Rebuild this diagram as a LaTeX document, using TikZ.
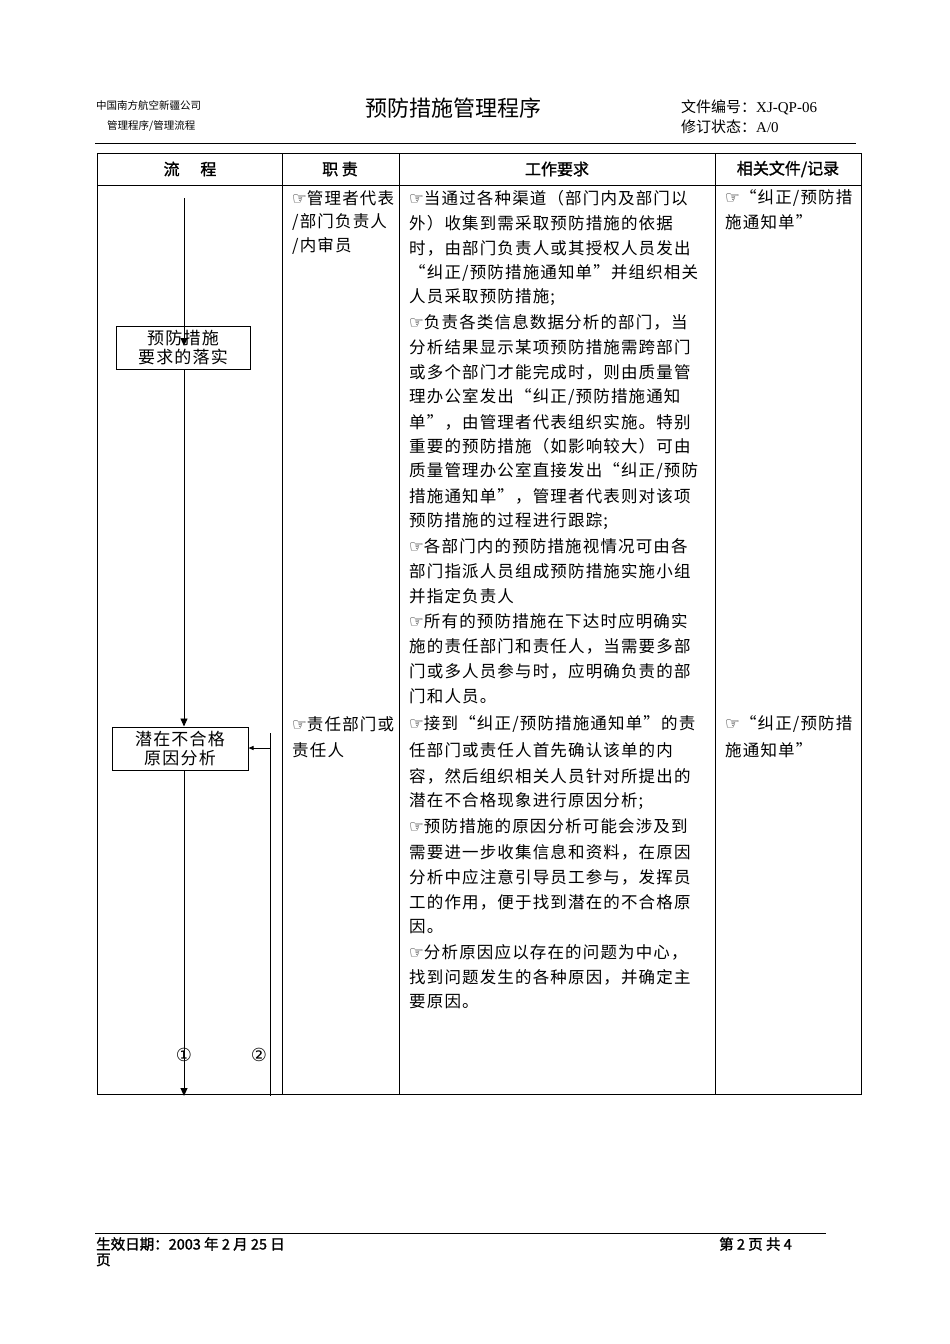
\documentclass[tikz,border=0pt]{standalone}
\usepackage{fontspec}
\setmainfont{Liberation Serif}
\newfontfamily\cjk{Noto Sans CJK SC}[LetterSpace=7]
\newfontfamily\cjkp{Noto Sans CJK SC}
\newfontfamily\cjkb{Noto Sans CJK SC}[FakeBold=1.5]
\newfontfamily\djv{DejaVu Sans}
\newcommand{\hnd}{{\djv\char"261E}}
\usetikzlibrary{arrows.meta}
\tikzset{
 txt/.style={anchor=west,inner sep=0pt,font=\cjk\fontsize{16.5}{18}\selectfont},
 hd/.style={inner sep=0pt,font=\cjkb\fontsize{16}{18}\selectfont},
 box/.style={draw,line width=1pt,inner sep=0pt,align=center,font=\cjk\fontsize{17}{19}\selectfont},
 flow/.style={line width=0.9pt,-{Triangle[length=8pt,width=7pt]}},
 grid/.style={line width=0.8pt}
}
\newcommand{\tl}[4]{\node[txt] (#1) at (#2,#3) {#4};}
\begin{document}
\begin{tikzpicture}[x=1pt,y=-1pt]
\useasboundingbox (0,0) rectangle (950,1344);
% header
\node[anchor=west,inner sep=0pt,font=\cjkp\fontsize{10.5}{12}\selectfont] (co) at (96,105) {中国南方航空新疆公司};
\node[anchor=west,inner sep=0pt,font=\cjkp\fontsize{10.5}{12}\selectfont] (pr) at (107,126) {管理程序/管理流程};
\node[inner sep=0pt,font=\cjkp\fontsize{22}{24}\selectfont] (title) at (453,108) {预防措施管理程序};
\node[anchor=west,inner sep=0pt,font=\fontsize{15}{17}\selectfont] (fn) at (681,107) {{\cjkp 文件编号：}XJ-QP-06};
\node[anchor=west,inner sep=0pt,font=\fontsize{15}{17}\selectfont] (st) at (681,127) {{\cjkp 修订状态：}A/0};
\coordinate (hl1) at (95,143); \coordinate (hl2) at (856,143);
\draw[line width=1pt] (hl1) -- (hl2);
% table
\draw[grid] (97,153) rectangle (861,1094);
\draw[grid] (97,185) -- (861,185);
\foreach \x in {282,399,715} \draw[grid] (\x,153) -- (\x,1094);
\node[hd] (h1) at (190,169) {流\hspace{1.3em}程};
\node[hd] (h2) at (340,169) {职 责};
\node[hd] (h3) at (557,169) {工作要求};
\node[hd] (h4) at (788,169) {相关文件/记录};
% flow
\coordinate (s0) at (184,198);
\node[box,minimum width=134pt,minimum height=43pt] (b1) at (183,347.5) {预防措施\\要求的落实};
\node[box,minimum width=136pt,minimum height=43pt] (b2) at (180,748.5) {潜在不合格\\原因分析};
\draw[flow] (s0) -- (184,346);
\draw[flow] (b1.south -| 184,0) -- (b2.north -| 184,0);
\coordinate (e1) at (184,1096);
\draw[flow] (b2.south -| 184,0) -- (e1);
\coordinate (r1) at (270,733); \coordinate (r2) at (270,1096);
\draw[line width=0.9pt] (r1) -- (r2);
\draw[line width=0.9pt,-{Triangle[length=5pt,width=4pt]}] (270,748) -- (b2.east |- 0,748);
\node[inner sep=0pt,font=\djv\fontsize{18}{20}\selectfont] (c1) at (184,1055) {①};
\node[inner sep=0pt,font=\djv\fontsize{18}{20}\selectfont] (c2) at (259,1055) {②};
% col2
\tl{a1}{292}{198}{\hnd 管理者代表}
\tl{a2}{292}{222}{/部门负责人}
\tl{a3}{292}{246}{/内审员}
\tl{a4}{292}{724}{\hnd 责任部门或}
\tl{a5}{292}{750}{责任人}
% col4
\tl{d1}{725}{198}{\hnd “纠正/预防措}
\tl{d2}{725}{222}{施通知单”}
\tl{d3}{725}{724}{\hnd “纠正/预防措}
\tl{d4}{725}{750}{施通知单”}
% col3 block1
\tl{p1}{409}{198}{\hnd 当通过各种渠道（部门内及部门以}
\tl{p2}{409}{223}{外）收集到需采取预防措施的依据}
\tl{p3}{409}{248}{时，由部门负责人或其授权人员发出}
\tl{p4}{409}{273}{“纠正/预防措施通知单”并组织相关}
\tl{p5}{409}{297}{人员采取预防措施;}
\tl{p6}{409}{322}{\hnd 负责各类信息数据分析的部门，当}
\tl{p7}{409}{347}{分析结果显示某项预防措施需跨部门}
\tl{p8}{409}{372}{或多个部门才能完成时，则由质量管}
\tl{p9}{409}{397}{理办公室发出“纠正/预防措施通知}
\tl{p10}{409}{422}{单”，由管理者代表组织实施。特别}
\tl{p11}{409}{446}{重要的预防措施（如影响较大）可由}
\tl{p12}{409}{471}{质量管理办公室直接发出“纠正/预防}
\tl{p13}{409}{496}{措施通知单”，管理者代表则对该项}
\tl{p14}{409}{521}{预防措施的过程进行跟踪;}
\tl{p15}{409}{546}{\hnd 各部门内的预防措施视情况可由各}
\tl{p16}{409}{571}{部门指派人员组成预防措施实施小组}
\tl{p17}{409}{596}{并指定负责人}
\tl{p18}{409}{621}{\hnd 所有的预防措施在下达时应明确实}
\tl{p19}{409}{646}{施的责任部门和责任人，当需要多部}
\tl{p20}{409}{671}{门或多人员参与时，应明确负责的部}
\tl{p21}{409}{696}{门和人员。}
% col3 block2
\tl{q1}{409}{724}{\hnd 接到“纠正/预防措施通知单”的责}
\tl{q2}{409}{750}{任部门或责任人首先确认该单的内}
\tl{q3}{409}{776}{容，然后组织相关人员针对所提出的}
\tl{q4}{409}{801}{潜在不合格现象进行原因分析;}
\tl{q5}{409}{826}{\hnd 预防措施的原因分析可能会涉及到}
\tl{q6}{409}{852}{需要进一步收集信息和资料，在原因}
\tl{q7}{409}{877}{分析中应注意引导员工参与，发挥员}
\tl{q8}{409}{902}{工的作用，便于找到潜在的不合格原}
\tl{q9}{409}{927}{因。}
\tl{q10}{409}{952}{\hnd 分析原因应以存在的问题为中心，}
\tl{q11}{409}{977}{找到问题发生的各种原因，并确定主}
\tl{q12}{409}{1002}{要原因。}
% footer
\coordinate (f1) at (95,1233); \coordinate (f2) at (826,1233);
\draw[line width=0.7pt] (f1) -- (f2);
\node[anchor=west,inner sep=0pt,font=\cjkb\fontsize{14.5}{16}\selectfont] (ft1) at (96,1244) {生效日期：2003 年 2 月 25 日};
\node[anchor=west,inner sep=0pt,font=\cjkb\fontsize{14.5}{16}\selectfont] (ft2) at (96,1260) {页};
\node[anchor=west,inner sep=0pt,font=\cjkb\fontsize{14.5}{16}\selectfont] (ft3) at (719,1244) {第\ 2\ 页\ 共\ 4};
\end{tikzpicture}
\end{document}
